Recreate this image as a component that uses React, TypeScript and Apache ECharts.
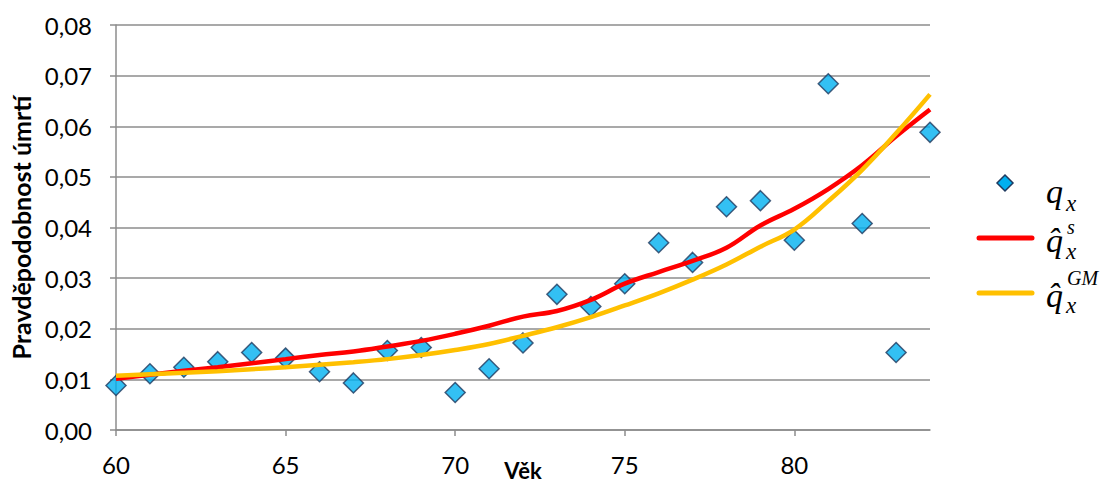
import React, { useEffect, useRef } from "react";
import * as echarts from "echarts";

// Age (years)
const ages = [60, 61, 62, 63, 64, 65, 66, 67, 68, 69, 70, 71, 72, 73, 74, 75, 76, 77, 78, 79, 80, 81, 82, 83, 84];

// Observed probability of death q_x
const qObserved = [
  0.0088, 0.0111, 0.0124, 0.0135, 0.0153, 0.0142, 0.0115, 0.0093, 0.0157, 0.0163,
  0.0074, 0.0121, 0.0172, 0.0268, 0.0244, 0.0289, 0.037, 0.0331, 0.0441, 0.0453,
  0.0375, 0.0684, 0.0408, 0.0153, 0.0588,
];

// Smoothed estimate (q̂^s)
const qSmoothed = [
  0.0101, 0.0109, 0.0117, 0.0124, 0.0132, 0.014, 0.0148, 0.0155, 0.0165, 0.0176,
  0.019, 0.0206, 0.0224, 0.0235, 0.0257, 0.0289, 0.0312, 0.0334, 0.036, 0.0404,
  0.0437, 0.0476, 0.0523, 0.058, 0.0633,
];

// Gompertz–Makeham estimate (q̂^GM)
const qGompertz = [
  0.0107, 0.011, 0.0113, 0.0116, 0.012, 0.0124, 0.0129, 0.0134, 0.014, 0.0148,
  0.0158, 0.017, 0.0186, 0.0203, 0.0223, 0.0246, 0.027, 0.0297, 0.0327, 0.0362,
  0.0396, 0.0452, 0.0514, 0.0586, 0.0663,
];

const xTicks = [60, 65, 70, 75, 80];

const AXIS_FONT = "Lato";
const MATH_FONT = "'Liberation Serif'";
const GRID_GRAY = "#8c8c8c";

export default function App() {
  const ref = useRef<HTMLDivElement>(null);

  useEffect(() => {
    if (!ref.current) return;
    const chart = echarts.init(ref.current, null, { renderer: "svg" });

    const pair = (ys: number[]) => ages.map((a, i) => [a, ys[i]]);

    const txt = (x: number, y: number, text: string, size: number) => ({
      type: "text",
      x,
      y,
      style: { text, font: `italic ${size}px ${MATH_FONT}`, fill: "#000", verticalAlign: "middle" },
    });

    const legendGraphics: any[] = [
      // q_x
      {
        type: "polygon",
        shape: { points: [[1005, 175], [1013, 183], [1005, 191], [997, 183]] },
        style: { fill: "#00B0F0", stroke: "#1F3A5F", lineWidth: 1.5 },
      },
      txt(1046, 191, "q", 34),
      txt(1066, 203, "x", 23),
      // q̂^s_x
      {
        type: "line",
        shape: { x1: 979, y1: 238, x2: 1032, y2: 238 },
        style: { stroke: "#FF0000", lineWidth: 5, lineCap: "round" },
      },
      txt(1046, 240, "q\u0302", 34),
      txt(1067, 227, "s", 20),
      txt(1066, 251, "x", 23),
      // q̂^GM_x
      {
        type: "line",
        shape: { x1: 979, y1: 293, x2: 1032, y2: 293 },
        style: { stroke: "#FFC000", lineWidth: 5, lineCap: "round" },
      },
      txt(1046, 295, "q\u0302", 34),
      txt(1067, 278, "GM", 20),
      txt(1066, 305, "x", 23),
    ];

    chart.setOption({
      animation: false,
      backgroundColor: "#ffffff",
      grid: { left: 116, right: 170, top: 25, bottom: 54, outerBoundsMode: "none", containLabel: false },
      xAxis: {
        type: "value",
        min: 60,
        max: 84,
        interval: 5,
        name: "Věk",
        nameLocation: "middle",
        nameGap: 29,
        nameMoveOverlap: false,
        nameTextStyle: {
          fontFamily: AXIS_FONT,
          fontWeight: "bold",
          fontSize: 22,
          color: "#000",
        },
        axisLine: { show: true, lineStyle: { color: GRID_GRAY, width: 1.5 } },
        axisTick: { show: true, length: 6, lineStyle: { color: GRID_GRAY, width: 1.5 }, customValues: xTicks },
        axisLabel: {
          fontFamily: AXIS_FONT,
          fontSize: 24,
          color: "#000",
          margin: 22,
          customValues: xTicks,
        },
        splitLine: { show: false },
      },
      yAxis: {
        type: "value",
        min: 0,
        max: 0.08,
        interval: 0.01,
        name: "Pravděpodobnost úmrtí",
        nameLocation: "middle",
        nameGap: 83,
        nameMoveOverlap: false,
        nameRotate: 90,
        nameTextStyle: {
          fontFamily: AXIS_FONT,
          fontWeight: "bold",
          fontSize: 25,
          color: "#000",
        },
        axisLine: { show: true, lineStyle: { color: GRID_GRAY, width: 1.5 } },
        axisTick: { show: true, length: 6, lineStyle: { color: GRID_GRAY, width: 1.5 } },
        axisLabel: {
          fontFamily: AXIS_FONT,
          fontSize: 24,
          color: "#000",
          margin: 24,
          formatter: (v: number) => v.toFixed(2).replace(".", ","),
        },
        splitLine: { show: true, lineStyle: { color: GRID_GRAY, width: 1.5 } },
      },
      series: [
        {
          name: "qx",
          type: "scatter",
          data: pair(qObserved),
          symbol: "diamond",
          symbolSize: 20,
          itemStyle: { color: "#00B0F0", borderColor: "#1F3A5F", borderWidth: 1.5 },
          z: 2,
        },
        {
          name: "qs",
          type: "line",
          data: pair(qSmoothed),
          smooth: 0.4,
          showSymbol: false,
          lineStyle: { color: "#FF0000", width: 4.5 },
          z: 3,
        },
        {
          name: "qGM",
          type: "line",
          data: pair(qGompertz),
          smooth: 0.4,
          showSymbol: false,
          lineStyle: { color: "#FFC000", width: 4.5 },
          z: 4,
        },
      ],
      graphic: legendGraphics,
    });

    return () => chart.dispose();
  }, []);

  return <div ref={ref} style={{ width: 1100, height: 484, position: "absolute", left: 0, top: 0 }} />;
}
